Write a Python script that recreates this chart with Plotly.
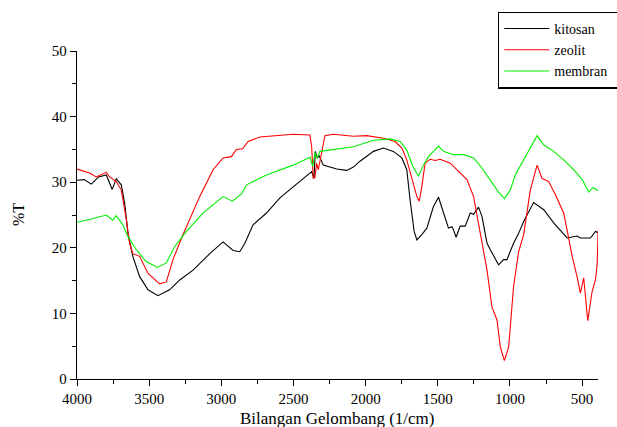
import plotly.graph_objects as go

# kitosan (black)
kitosan_wn = [4000, 3950, 3901, 3850, 3797, 3756, 3728, 3693, 3670, 3647, 3613, 3566, 3508, 3439,
              3358, 3288, 3196, 3080, 2988, 2918, 2872, 2837, 2780, 2687, 2594, 2502, 2409, 2374,
              2358, 2349, 2335, 2321, 2294, 2200, 2131, 2085, 2039, 1946, 1877, 1808, 1749, 1715,
              1692, 1664, 1645, 1611, 1576, 1530, 1495, 1461, 1426, 1402, 1391, 1373, 1345, 1310,
              1275, 1252, 1218, 1194, 1159, 1136, 1113, 1079, 1044, 1021, 975, 940, 905, 836, 766,
              697, 604, 535, 512, 442, 408, 389]
kitosan_t = [30.3, 30.4, 29.7, 30.8, 31.1, 28.9, 30.5, 29.6, 26.8, 22.2, 18.7, 15.6, 13.6, 12.7,
             13.6, 15.1, 16.6, 19.1, 20.9, 19.6, 19.4, 20.7, 23.5, 25.3, 27.6, 29.3, 31.1, 31.6,
             30.6, 34.7, 33.7, 34.0, 32.6, 32.0, 31.8, 32.3, 33.2, 34.7, 35.2, 34.7, 33.7, 31.9,
             27.3, 22.5, 21.2, 22.0, 23.0, 26.3, 27.7, 25.3, 23.0, 23.2, 22.7, 21.6, 23.3, 23.3,
             25.3, 25.1, 26.2, 24.8, 20.7, 19.7, 18.7, 17.4, 18.2, 18.2, 20.7, 22.2, 24.0, 26.9, 25.8,
             23.8, 21.5, 21.8, 21.5, 21.5, 22.5, 22.3]

# zeolit (red)
zeolit_wn = [4000, 3913, 3867, 3797, 3774, 3728, 3693, 3658, 3636, 3613, 3566, 3508, 3427, 3381,
             3335, 3266, 3150, 3057, 2988, 2930, 2895, 2853, 2814, 2733, 2502, 2386, 2374, 2363,
             2351, 2340, 2328, 2305, 2282, 2224, 2085, 1993, 1877, 1796, 1749, 1715, 1680, 1645,
             1629, 1611, 1588, 1553, 1518, 1484, 1414, 1368, 1298, 1252, 1209, 1159, 1125, 1090,
             1067, 1039, 1009, 975, 940, 905, 859, 812, 778, 732, 685, 628, 604, 569, 535, 512,
             489, 461, 431, 408, 396, 389]
zeolit_t = [32.0, 31.4, 30.8, 31.5, 30.8, 30.1, 28.8, 24.3, 20.7, 19.1, 18.7, 16.1, 14.5, 14.8,
            18.2, 22.0, 27.8, 31.9, 33.7, 33.9, 35.0, 35.1, 36.2, 36.9, 37.3, 37.2, 35.4, 30.6,
            30.7, 32.9, 31.9, 34.4, 37.1, 37.3, 37.0, 37.1, 36.7, 36.2, 35.2, 33.4, 30.6, 27.8,
            27.1, 29.3, 32.9, 33.5, 33.3, 33.5, 32.9, 31.9, 30.4, 27.8, 22.7, 16.6, 11.0, 9.0,
            4.9, 2.8, 4.9, 14.1, 19.4, 22.0, 28.8, 32.6, 30.6, 30.1, 28.1, 25.3, 22.7, 18.7, 15.6, 13.1,
            15.4, 8.9, 13.3, 15.1, 17.4, 22.7]

# membran (green)
membran_wn = [4000, 3913, 3797, 3751, 3728, 3682, 3647, 3589, 3520, 3443, 3381, 3323, 3242, 3127,
              2988, 2923, 2860, 2825, 2687, 2502, 2386, 2367, 2351, 2335, 2317, 2201, 2085, 1946,
              1831, 1761, 1715, 1673, 1634, 1600, 1565, 1530, 1495, 1461, 1391, 1322, 1252, 1206,
              1136, 1079, 1039, 998, 963, 928, 859, 812, 766, 697, 628, 558, 500, 454, 424, 389]
membran_t = [23.9, 24.3, 25.0, 24.2, 24.9, 23.5, 21.7, 19.7, 17.9, 17.0, 17.7, 20.2, 22.5, 25.3,
             27.8, 27.1, 28.2, 29.6, 31.1, 32.6, 33.8, 32.4, 34.5, 33.7, 34.7, 35.0, 35.4, 36.4,
             36.6, 36.2, 34.9, 32.4, 30.9, 32.6, 33.9, 34.7, 35.5, 34.7, 34.2, 34.2, 33.7, 32.5,
             30.4, 28.5, 27.5, 28.8, 31.1, 32.5, 35.4, 37.1, 35.7, 34.7, 33.4, 31.9, 30.4, 28.5, 29.2, 28.7]

series_names = ["kitosan", "zeolit", "membran"]
x_ticks = [4000, 3500, 3000, 2500, 2000, 1500, 1000, 500]
y_ticks = [0, 10, 20, 30, 40, 50]

FONT = "'Liberation Serif', 'Times New Roman', Times, serif"
PAD = "\u00a0" * 5  # widens the legend box so it runs past the right edge, as in the original

fig = go.Figure()
fig.add_trace(go.Scatter(x=kitosan_wn, y=kitosan_t, mode="lines", name=series_names[0] + PAD,
                         line=dict(color="#000000", width=1.1)))
fig.add_trace(go.Scatter(x=zeolit_wn, y=zeolit_t, mode="lines", name=series_names[1] + PAD,
                         line=dict(color="#ff0000", width=1.1)))
fig.add_trace(go.Scatter(x=membran_wn, y=membran_t, mode="lines", name=series_names[2] + PAD,
                         line=dict(color="#00ee00", width=1.1)))

axis_common = dict(showline=True, linecolor="black", linewidth=1.3, showgrid=False,
                   zeroline=False, ticks="outside", ticklen=6, tickwidth=1.3, tickcolor="black",
                   tickfont=dict(family=FONT, size=15, color="black"))

fig.update_layout(
    width=617, height=427,
    margin=dict(l=77, r=19, t=51, b=48, autoexpand=False),
    paper_bgcolor="white", plot_bgcolor="white",
    font=dict(family=FONT, color="black", size=15),
    showlegend=True,
    legend=dict(x=0.808, y=1.12, xanchor="left", yanchor="top",
                bordercolor="black", borderwidth=1.3, bgcolor="white",
                font=dict(family=FONT, size=14, color="black"),
                itemwidth=45, tracegroupgap=0),
    xaxis=dict(range=[4000, 390], tickvals=x_ticks,
               ticktext=[str(v) for v in x_ticks],
               minor=dict(ticks="outside", ticklen=4, tickwidth=1.3, tickcolor="black",
                          tick0=0, dtick=250),
               automargin=False, **axis_common),
    yaxis=dict(range=[0, 50], tickvals=y_ticks,
               ticktext=[str(v) for v in y_ticks],
               minor=dict(ticks="outside", ticklen=4, tickwidth=1.3, tickcolor="black",
                          tick0=0, dtick=5),
               automargin=False, **axis_common),
    annotations=[
        dict(text="Bilangan Gelombang (1/cm)", xref="paper", yref="paper", x=0.5, y=0,
             yshift=-39, xanchor="center", yanchor="middle", showarrow=False,
             font=dict(family=FONT, size=17, color="black")),
        dict(text="%T", xref="paper", yref="paper", x=0, y=0.5, xshift=-59,
             xanchor="center", yanchor="middle", textangle=-90, showarrow=False,
             font=dict(family=FONT, size=16, color="black")),
    ],
)

fig.write_html("out.html")
